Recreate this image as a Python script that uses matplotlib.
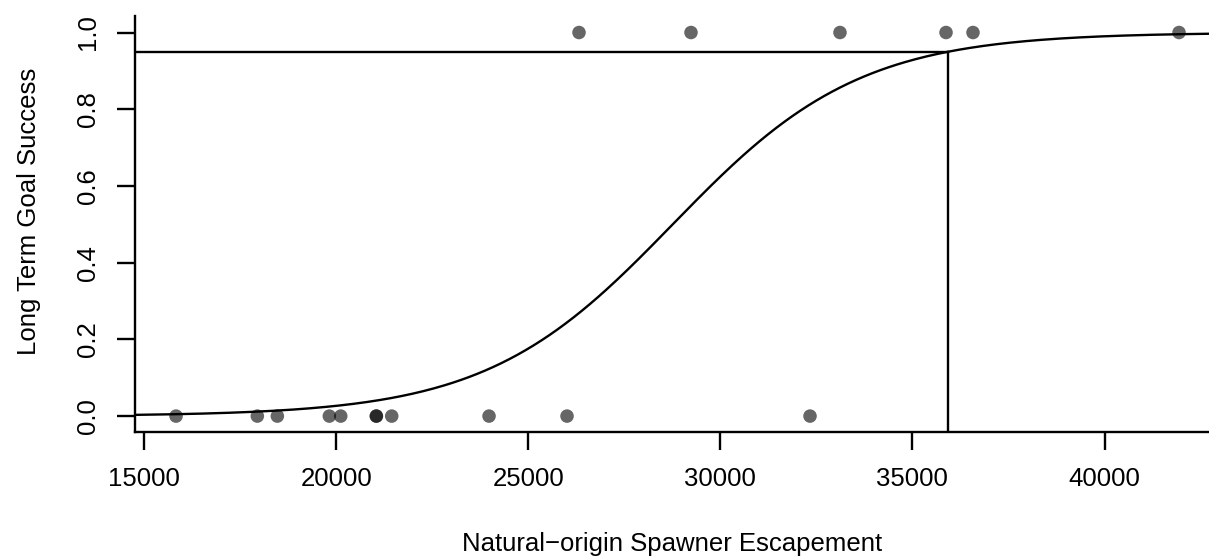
import numpy as np
import matplotlib
matplotlib.use("Agg")
import matplotlib.pyplot as plt

plt.rcParams['font.family'] = ['Liberation Sans', 'DejaVu Sans']

# escapement years where the long term goal was missed / met
escape_fail = [15833, 17949, 18470, 19823, 20120, 21047, 21047, 21447,
               23980, 26010, 32335]
escape_ok = [26322, 29237, 33115, 35875, 36577, 41940]

# fitted logistic model: logit(p) = b0 + b1 * escapement
b0 = -11.807
b1 = 4.105e-4
target = 0.95

x = np.array(escape_fail + escape_ok, dtype=float)
y = np.array([0] * len(escape_fail) + [1] * len(escape_ok), dtype=float)

xlim = (14766, 42720)
ylim = (-0.0415, 1.043)

fig = plt.figure(figsize=(12.09, 5.58), dpi=100)
ax = fig.add_axes([0.1117, 0.2258, 0.8883, 0.7455])

ax.scatter(x, y, s=95, color='black', alpha=0.6, edgecolors='none', zorder=3, clip_on=False)

xs = np.linspace(xlim[0], xlim[1], 400)
p = 1 / (1 + np.exp(-(b0 + b1 * xs)))
ax.plot(xs, p, color='black', lw=1.7)

x_target = (np.log(target / (1 - target)) - b0) / b1
ax.plot([xlim[0], x_target], [target, target], color='black', lw=1.7)
ax.plot([x_target, x_target], [ylim[0], target], color='black', lw=1.7)

ax.set_xlim(xlim)
ax.set_ylim(ylim)
ax.set_xticks([15000, 20000, 25000, 30000, 35000, 40000])
ax.set_yticks([0.0, 0.2, 0.4, 0.6, 0.8, 1.0])
ax.set_yticklabels(['0.0', '0.2', '0.4', '0.6', '0.8', '1.0'], rotation=90, va='center')

for s in ['top', 'right']:
    ax.spines[s].set_visible(False)
for s in ['left', 'bottom']:
    ax.spines[s].set_linewidth(1.7)

ax.tick_params(axis='both', labelsize=18.5, length=13, width=1.7, colors='black')
ax.tick_params(axis='x', pad=12)
ax.tick_params(axis='y', pad=12)

ax.set_xlabel('Natural\u2212origin Spawner Escapement', fontsize=18.5)
ax.set_ylabel('Long Term Goal Success', fontsize=18.5)
ax.xaxis.set_label_coords(0.5, -0.24)
ax.yaxis.set_label_coords(-0.088, 0.53)

fig.savefig('out.png', dpi=100)
